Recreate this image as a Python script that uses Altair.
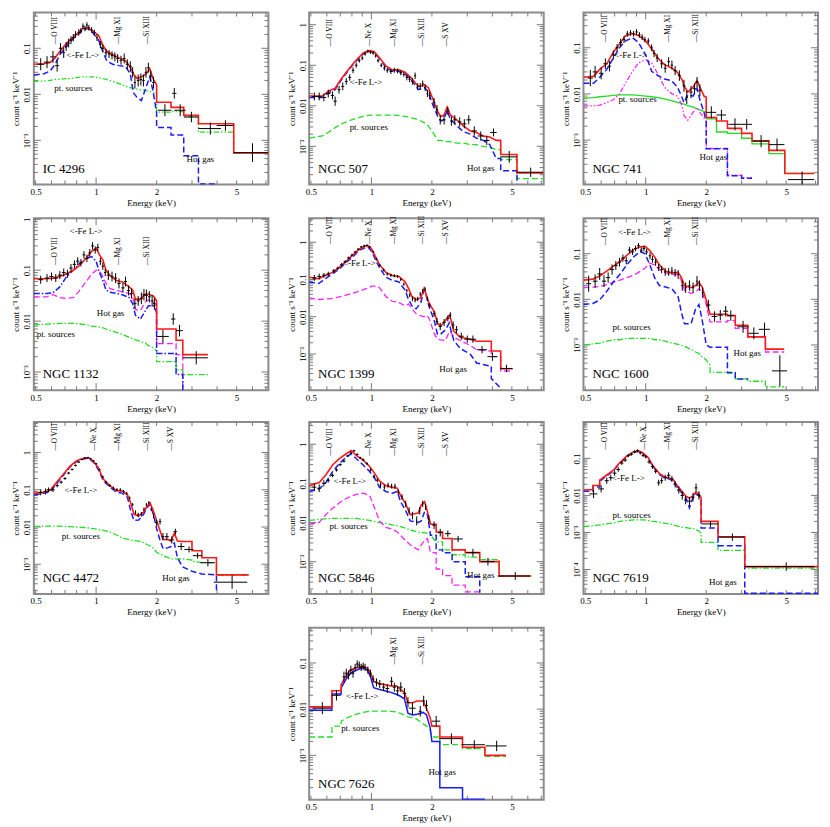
import altair as alt
import pandas as pd

FONT = "Liberation Serif"
W, H = 236, 173
X_DOMAIN = [0.49, 7.2]
X_TICK_VALUES = [0.5, 1, 2, 5]
X_TICK_LABELS = ["0.5", "1", "2", "5"]
X_MAJOR_TICKS = [1]
X_MINOR_TICKS = [0.5, 0.6, 0.7, 0.8, 0.9, 2, 3, 4, 5, 6, 7]
Y_TICK_VALUES = [1, 0.1, 0.01, 0.001, 0.0001]
Y_TICK_LABELS = ["1", "0.1", "0.01", "10⁻³", "10⁻⁴"]
LINE_NAMES = ["O VIII", "Ne X", "Mg XI", "Si XIII", "S XV"]
LINE_ENERGIES = [0.654, 1.022, 1.352, 1.865, 2.46]

# ---------------- IC 4296 ----------------
IC4296_E = [0.49, 0.55, 0.59, 0.625, 0.66, 0.70, 0.74, 0.80, 0.86, 0.91, 0.96, 1.03, 1.08, 1.13, 1.21, 1.30, 1.40, 1.48, 1.53, 1.60, 1.68, 1.78, 1.85, 1.92, 2.0, 2.0, 2.36, 2.36, 2.73, 2.73, 3.23, 3.23, 4.0, 4.84, 4.84, 7.2]
IC4296_TOT = [0.045, 0.046, 0.049, 0.062, 0.085, 0.117, 0.15, 0.2, 0.27, 0.28, 0.24, 0.19, 0.117, 0.085, 0.073, 0.062, 0.053, 0.039, 0.028, 0.022, 0.024, 0.028, 0.036, 0.022, 0.016, 0.0067, 0.0067, 0.0052, 0.0052, 0.0035, 0.0035, 0.0023, 0.0023, 0.0023, 5.3e-4, 5.3e-4]
IC4296_GAS = [0.026, 0.028, 0.032, 0.045, 0.073, 0.1, 0.137, 0.19, 0.25, 0.27, 0.22, 0.15, 0.085, 0.053, 0.045, 0.042, 0.04, 0.028, 0.011, 0.0085, 0.0073, 0.015, 0.024, 0.0117, 0.004, 0.0019, 0.0019, 0.0013, 0.0013, 4.6e-4, 4.6e-4, 1.12e-4, 1.12e-4, None, None, None]
IC4296_PT = [0.019, 0.0195, 0.02, 0.021, 0.021, 0.022, 0.022, 0.023, 0.024, 0.024, 0.024, 0.023, 0.022, 0.021, 0.019, 0.017, 0.015, 0.014, 0.0135, 0.013, 0.0125, 0.012, 0.0115, 0.011, 0.0105, 0.0041, 0.0041, 0.0042, 0.0042, 0.0033, 0.0033, 0.0015, 0.0015, 0.0015, 5.3e-4, 5.3e-4]
IC4296_DX = [0.53, 0.57, 0.61, 0.64, 0.665, 0.69, 0.71, 0.73, 0.75, 0.77, 0.79, 0.82, 0.84, 0.86, 0.88, 0.90, 0.92, 0.95, 0.98, 1.01, 1.05, 1.08, 1.12, 1.16, 1.20, 1.24, 1.28, 1.33, 1.38, 1.43, 1.48, 1.52, 1.56, 1.62, 1.67, 1.72, 1.77, 1.82, 1.87, 1.93, 2.2, 2.45, 2.62, 2.98, 3.7, 4.4, 6.0]
IC4296_DW = [0.02, 0.02, 0.02, 0.015, 0.012, 0.01, 0.01, 0.01, 0.01, 0.01, 0.01, 0.01, 0.01, 0.01, 0.01, 0.01, 0.01, 0.012, 0.012, 0.012, 0.015, 0.015, 0.018, 0.018, 0.018, 0.02, 0.02, 0.022, 0.022, 0.025, 0.025, 0.02, 0.02, 0.025, 0.025, 0.025, 0.025, 0.025, 0.025, 0.03, 0.17, 0.06, 0.17, 0.25, 0.48, 0.42, 1.18]
IC4296_DY = [0.045, 0.05, 0.065, 0.042, 0.1, 0.08, 0.11, 0.13, 0.15, 0.17, 0.2, 0.22, 0.24, 0.3, 0.27, 0.32, 0.28, 0.25, 0.22, 0.17, 0.12, 0.1, 0.08, 0.075, 0.07, 0.065, 0.06, 0.055, 0.06, 0.045, 0.04, 0.03, 0.018, 0.02, 0.021, 0.02, 0.03, 0.038, 0.025, 0.018, 0.0045, 0.0105, 0.0045, 0.0032, 0.0018, 0.0021, 5.4e-4]
IC4296_DF = [1.35, 1.35, 1.35, 1.35, 1.3, 1.3, 1.25, 1.25, 1.22, 1.2, 1.18, 1.18, 1.16, 1.16, 1.15, 1.15, 1.15, 1.15, 1.15, 1.18, 1.2, 1.2, 1.22, 1.22, 1.22, 1.25, 1.25, 1.25, 1.28, 1.28, 1.3, 1.3, 1.35, 1.35, 1.35, 1.35, 1.3, 1.28, 1.3, 1.35, 1.35, 1.3, 1.35, 1.3, 1.35, 1.3, 1.6]

# ---------------- NGC 507 ----------------
N507_E = [0.49, 0.57, 0.61, 0.66, 0.71, 0.77, 0.83, 0.91, 0.97, 1.03, 1.1, 1.18, 1.27, 1.37, 1.47, 1.59, 1.71, 1.84, 1.92, 2.0, 2.14, 2.22, 2.3, 2.38, 2.47, 2.66, 2.87, 3.1, 3.33, 3.6, 3.88, 4.18, 4.4, 4.4, 5.3, 5.3, 7.2]
N507_TOT = [0.0174, 0.0174, 0.023, 0.027, 0.047, 0.08, 0.126, 0.2, 0.23, 0.217, 0.151, 0.096, 0.077, 0.077, 0.067, 0.047, 0.030, 0.033, 0.028, 0.017, 0.007, 0.0054, 0.006, 0.0093, 0.006, 0.0045, 0.0032, 0.0024, 0.0022, 0.0018, 0.0017, 0.0014, 0.0014, 6.3e-4, 6.3e-4, 2.2e-4, 2.2e-4]
N507_GAS = [0.016, 0.016, 0.021, 0.025, 0.044, 0.076, 0.12, 0.19, 0.22, 0.21, 0.145, 0.09, 0.071, 0.071, 0.061, 0.042, 0.025, 0.028, 0.022, 0.012, 0.0054, 0.0042, 0.0046, 0.0078, 0.0047, 0.0032, 0.0023, 0.002, 0.0016, 0.0014, 0.0011, 5e-4, 5e-4, 2.5e-4, 2.5e-4, 1.16e-4, None]
N507_PT = [0.0016, 0.0018, 0.0022, 0.0029, 0.0036, 0.0042, 0.0048, 0.0055, 0.0058, 0.0059, 0.0059, 0.0059, 0.0059, 0.0057, 0.0055, 0.005, 0.0045, 0.0038, 0.0032, 0.0024, 0.0014, 0.0014, 0.0013, 0.0013, 0.0013, 0.0012, 0.0012, 0.0011, 0.0011, 0.001, 9.6e-4, 8.3e-4, 8.3e-4, 4.7e-4, 4.7e-4, 1.6e-4, 1.6e-4]
N507_DX = [0.52, 0.55, 0.58, 0.61, 0.64, 0.66, 0.69, 0.72, 0.75, 0.78, 0.81, 0.84, 0.87, 0.9, 0.93, 0.96, 0.99, 1.02, 1.05, 1.08, 1.12, 1.16, 1.2, 1.25, 1.3, 1.35, 1.4, 1.45, 1.5, 1.55, 1.6, 1.65, 1.7, 1.75, 1.8, 1.85, 1.9, 1.95, 2.05, 2.12, 2.2, 2.3, 2.4, 2.5, 2.6, 2.75, 2.9, 3.05, 3.25, 3.5, 3.75, 4.05, 4.85, 6.2]
N507_DW = [0.015, 0.015, 0.015, 0.015, 0.012, 0.012, 0.012, 0.012, 0.012, 0.012, 0.012, 0.012, 0.012, 0.012, 0.012, 0.012, 0.012, 0.012, 0.012, 0.015, 0.015, 0.015, 0.018, 0.018, 0.02, 0.02, 0.02, 0.02, 0.02, 0.02, 0.02, 0.02, 0.02, 0.02, 0.02, 0.02, 0.02, 0.02, 0.03, 0.03, 0.03, 0.04, 0.04, 0.04, 0.05, 0.06, 0.07, 0.08, 0.1, 0.12, 0.12, 0.15, 0.45, 0.95]
N507_DY = [0.017, 0.017, 0.016, 0.02, 0.018, 0.013, 0.025, 0.03, 0.04, 0.05, 0.075, 0.1, 0.13, 0.15, 0.19, 0.22, 0.21, 0.2, 0.17, 0.13, 0.1, 0.085, 0.075, 0.07, 0.075, 0.072, 0.065, 0.06, 0.05, 0.045, 0.04, 0.055, 0.03, 0.03, 0.035, 0.028, 0.02, 0.018, 0.012, 0.008, 0.0045, 0.0045, 0.0075, 0.0042, 0.0045, 0.004, 0.0036, 0.0045, 0.0024, 0.0018, 0.0014, 0.0022, 5.5e-4, 2.3e-4]
N507_DF = [1.25, 1.25, 1.25, 1.25, 1.25, 1.3, 1.25, 1.25, 1.2, 1.2, 1.18, 1.15, 1.12, 1.12, 1.1, 1.1, 1.1, 1.1, 1.1, 1.12, 1.12, 1.15, 1.15, 1.15, 1.15, 1.15, 1.15, 1.15, 1.18, 1.18, 1.2, 1.2, 1.2, 1.2, 1.2, 1.2, 1.22, 1.25, 1.3, 1.3, 1.3, 1.3, 1.25, 1.3, 1.3, 1.3, 1.3, 1.3, 1.3, 1.3, 1.3, 1.25, 1.4, 1.3]

# ---------------- NGC 741 ----------------
N741_E = [0.49, 0.55, 0.59, 0.64, 0.69, 0.74, 0.79, 0.86, 0.92, 1.0, 1.07, 1.15, 1.24, 1.34, 1.44, 1.52, 1.55, 1.62, 1.72, 1.8, 1.86, 1.95, 2.0, 2.0, 2.25, 2.25, 2.55, 2.55, 3.0, 3.0, 3.38, 3.38, 4.1, 4.1, 4.92, 4.92, 6.9]
N741_TOT = [0.023, 0.024, 0.034, 0.045, 0.08, 0.12, 0.18, 0.2, 0.185, 0.14, 0.095, 0.059, 0.043, 0.037, 0.029, 0.02, 0.015, 0.011, 0.014, 0.0196, 0.014, 0.009, 0.0085, 0.0031, 0.0031, 0.0026, 0.0026, 0.0018, 0.0018, 0.0014, 0.0014, 9.7e-4, 9.7e-4, 6.0e-4, 6.0e-4, 1.9e-4, 1.9e-4]
N741_GAS = [0.017, 0.017, 0.023, 0.034, 0.06, 0.1, 0.14, 0.165, 0.13, 0.07, 0.031, 0.025, 0.021, 0.0196, 0.014, 0.0081, 0.0065, 0.0095, 0.009, 0.0132, 0.0075, 0.004, 0.0025, 6.5e-4, 6.5e-4, 6.5e-4, 6.5e-4, 1.7e-4, 1.7e-4, 1.5e-4, 1.5e-4, None, None, None, None, None, None]
N741_MAG = [0.0055, 0.0055, 0.0057, 0.0065, 0.0075, 0.01, 0.0167, 0.031, 0.047, 0.055, 0.047, 0.027, 0.014, 0.0103, 0.0089, 0.0055, 0.0034, 0.0027, 0.004, 0.005, 0.004, 0.003, 0.0025, 6.6e-4, 6.6e-4, 6.6e-4, 6.6e-4, 1.75e-4, 1.75e-4, 1.55e-4, 1.55e-4, None, None, None, None, None, None]
N741_PT = [0.0081, 0.0083, 0.0087, 0.009, 0.0093, 0.0095, 0.0095, 0.0095, 0.0093, 0.009, 0.0087, 0.0083, 0.0078, 0.0072, 0.0066, 0.0062, 0.006, 0.0056, 0.0052, 0.0048, 0.0045, 0.0042, 0.004, 0.0029, 0.0029, 0.0015, 0.0015, 0.0014, 0.0014, 0.0011, 0.0011, 8.3e-4, 8.3e-4, 5.1e-4, 5.1e-4, 1.9e-4, 1.9e-4]
N741_DX = [0.53, 0.56, 0.6, 0.63, 0.66, 0.69, 0.72, 0.75, 0.78, 0.81, 0.84, 0.87, 0.9, 0.93, 0.96, 0.99, 1.03, 1.07, 1.1, 1.14, 1.2, 1.25, 1.3, 1.35, 1.4, 1.47, 1.55, 1.6, 1.68, 1.75, 1.8, 1.86, 2.12, 2.38, 2.78, 3.18, 3.75, 4.5, 6.0]
N741_DW = [0.015, 0.015, 0.015, 0.015, 0.012, 0.012, 0.012, 0.012, 0.012, 0.012, 0.012, 0.012, 0.012, 0.012, 0.012, 0.012, 0.015, 0.015, 0.015, 0.018, 0.02, 0.02, 0.02, 0.02, 0.025, 0.025, 0.025, 0.025, 0.03, 0.03, 0.03, 0.03, 0.12, 0.13, 0.2, 0.2, 0.35, 0.4, 0.9]
N741_DY = [0.022, 0.03, 0.028, 0.045, 0.04, 0.07, 0.1, 0.13, 0.15, 0.2, 0.21, 0.2, 0.22, 0.19, 0.17, 0.15, 0.14, 0.1, 0.075, 0.06, 0.045, 0.036, 0.05, 0.042, 0.032, 0.025, 0.015, 0.0085, 0.011, 0.013, 0.018, 0.012, 0.004, 0.0035, 0.0022, 0.0022, 9.5e-4, 8e-4, 1.4e-4]
N741_DF = [1.5, 1.35, 1.35, 1.3, 1.3, 1.25, 1.2, 1.2, 1.18, 1.15, 1.15, 1.15, 1.15, 1.15, 1.15, 1.15, 1.15, 1.18, 1.2, 1.22, 1.25, 1.25, 1.25, 1.25, 1.25, 1.3, 1.35, 1.4, 1.35, 1.3, 1.3, 1.35, 1.35, 1.3, 1.35, 1.3, 1.35, 1.35, 1.5]

# ---------------- NGC 1132 ----------------
N1132_E = [0.49, 0.565, 0.61, 0.66, 0.71, 0.77, 0.82, 0.89, 0.95, 1.0, 1.04, 1.08, 1.12, 1.17, 1.26, 1.35, 1.46, 1.52, 1.57, 1.66, 1.76, 1.82, 1.93, 2.0, 2.0, 2.5, 2.5, 2.7, 2.7, 3.6]
N1132_TOT = [0.068, 0.068, 0.07, 0.075, 0.084, 0.1, 0.12, 0.17, 0.235, 0.27, 0.2, 0.16, 0.1, 0.08, 0.063, 0.059, 0.047, 0.041, 0.027, 0.027, 0.034, 0.034, 0.031, 0.025, 0.007, 0.007, 0.0042, 0.0042, 0.0022, 0.0022]
N1132_GAS = [0.035, 0.035, 0.036, 0.047, 0.073, 0.1, 0.13, 0.17, 0.185, 0.15, 0.09, 0.063, 0.041, 0.037, 0.035, 0.033, 0.029, 0.022, 0.013, 0.011, 0.016, 0.02, 0.02, 0.015, 0.0023, 0.0023, 8.9e-4, 8.9e-4, 4e-4, None]
N1132_MAG = [0.03, 0.03, 0.033, 0.029, 0.028, 0.029, 0.038, 0.059, 0.084, 0.1, 0.095, 0.075, 0.055, 0.044, 0.04, 0.038, 0.035, 0.03, 0.017, 0.016, 0.024, 0.026, 0.023, 0.02, 0.0036, 0.0036, 0.0022, 0.0022, 4e-4, None]
N1132_PT = [0.0084, 0.0087, 0.0089, 0.009, 0.009, 0.009, 0.0088, 0.0085, 0.008, 0.0078, 0.0076, 0.0074, 0.007, 0.0066, 0.006, 0.0055, 0.0048, 0.0045, 0.0043, 0.004, 0.0037, 0.0033, 0.003, 0.0026, 0.0016, 0.0016, 0.0011, 0.0011, 8.9e-4, 8.9e-4]
N1132_DX = [0.53, 0.57, 0.6, 0.63, 0.66, 0.69, 0.72, 0.75, 0.78, 0.81, 0.84, 0.87, 0.9, 0.93, 0.96, 0.99, 1.02, 1.05, 1.08, 1.11, 1.15, 1.2, 1.25, 1.3, 1.36, 1.4, 1.45, 1.5, 1.56, 1.62, 1.68, 1.73, 1.78, 1.84, 1.9, 1.95, 2.15, 2.42, 2.6, 3.15]
N1132_DW = [0.015, 0.015, 0.015, 0.015, 0.015, 0.015, 0.015, 0.015, 0.015, 0.015, 0.015, 0.015, 0.015, 0.015, 0.015, 0.015, 0.015, 0.015, 0.015, 0.015, 0.02, 0.02, 0.02, 0.025, 0.025, 0.025, 0.025, 0.025, 0.03, 0.03, 0.03, 0.03, 0.03, 0.03, 0.03, 0.03, 0.15, 0.06, 0.1, 0.45]
N1132_DY = [0.065, 0.07, 0.075, 0.07, 0.08, 0.09, 0.085, 0.11, 0.13, 0.15, 0.14, 0.2, 0.17, 0.22, 0.3, 0.25, 0.28, 0.15, 0.12, 0.09, 0.08, 0.075, 0.07, 0.055, 0.045, 0.06, 0.04, 0.035, 0.022, 0.025, 0.028, 0.033, 0.032, 0.03, 0.025, 0.022, 0.005, 0.011, 0.0065, 0.0019]
N1132_DF = [1.2, 1.2, 1.2, 1.2, 1.2, 1.2, 1.2, 1.2, 1.2, 1.2, 1.18, 1.18, 1.18, 1.18, 1.18, 1.18, 1.18, 1.18, 1.18, 1.18, 1.25, 1.25, 1.25, 1.25, 1.25, 1.25, 1.25, 1.25, 1.25, 1.25, 1.3, 1.3, 1.3, 1.3, 1.3, 1.3, 1.35, 1.3, 1.3, 1.35]

# ---------------- NGC 1399 ----------------
N1399_E = [0.49, 0.547, 0.59, 0.639, 0.69, 0.747, 0.81, 0.87, 0.925, 0.96, 1.0, 1.057, 1.097, 1.18, 1.27, 1.37, 1.47, 1.53, 1.59, 1.67, 1.76, 1.83, 1.86, 1.93, 2.06, 2.13, 2.21, 2.34, 2.44, 2.47, 2.57, 2.77, 3.1, 3.34, 3.95, 3.95, 4.4, 4.4, 5.05]
N1399_TOT = [0.115, 0.105, 0.128, 0.155, 0.208, 0.308, 0.456, 0.65, 0.77, 0.82, 0.675, 0.375, 0.25, 0.155, 0.128, 0.12, 0.087, 0.058, 0.035, 0.029, 0.032, 0.058, 0.045, 0.024, 0.0133, 0.0068, 0.0055, 0.008, 0.0109, 0.0095, 0.0041, 0.0028, 0.0025, 0.0022, 0.0022, 0.0012, 0.0012, 4.0e-4, 4.0e-4]
N1399_GAS = [0.086, 0.078, 0.105, 0.14, 0.188, 0.28, 0.41, 0.61, 0.7, 0.745, 0.58, 0.308, 0.208, 0.115, 0.095, 0.086, 0.052, 0.029, 0.0197, 0.0163, 0.024, 0.052, 0.043, 0.0197, 0.0075, 0.0034, 0.0034, 0.0045, 0.0068, 0.005, 0.0023, 0.0014, 0.001, 5.7e-4, 4.7e-4, 2.2e-4, 1.2e-4, None, None]
N1399_MAG = [0.032, 0.029, 0.03, 0.031, 0.034, 0.038, 0.043, 0.048, 0.055, 0.058, 0.066, 0.066, 0.06, 0.035, 0.026, 0.024, 0.0197, 0.022, 0.0163, 0.012, 0.0105, 0.01, 0.011, 0.0095, 0.0034, 0.0025, 0.0024, 0.0023, 0.004, 0.0041, 0.0028, 0.0023, 0.0017, 0.0013, 0.0012, 8.5e-4, 8.5e-4, 3.5e-4, 3.5e-4]
N1399_DX = [0.52, 0.55, 0.58, 0.61, 0.65, 0.68, 0.71, 0.74, 0.77, 0.8, 0.83, 0.86, 0.89, 0.92, 0.95, 0.98, 1.02, 1.06, 1.1, 1.15, 1.2, 1.25, 1.3, 1.35, 1.4, 1.45, 1.5, 1.55, 1.6, 1.65, 1.7, 1.75, 1.8, 1.85, 1.9, 1.95, 2.05, 2.12, 2.2, 2.3, 2.4, 2.47, 2.55, 2.65, 2.8, 3.0, 3.2, 3.55, 4.0, 4.7]
N1399_DW = [0.012, 0.012, 0.012, 0.012, 0.012, 0.012, 0.012, 0.012, 0.012, 0.012, 0.012, 0.012, 0.012, 0.012, 0.012, 0.012, 0.012, 0.012, 0.012, 0.012, 0.012, 0.012, 0.012, 0.012, 0.012, 0.012, 0.012, 0.012, 0.012, 0.012, 0.012, 0.012, 0.012, 0.012, 0.012, 0.012, 0.03, 0.03, 0.04, 0.04, 0.04, 0.03, 0.04, 0.05, 0.08, 0.1, 0.12, 0.2, 0.22, 0.33]
N1399_DY = [0.11, 0.12, 0.13, 0.14, 0.17, 0.2, 0.25, 0.3, 0.38, 0.45, 0.55, 0.65, 0.75, 0.8, 0.82, 0.75, 0.55, 0.35, 0.24, 0.18, 0.14, 0.13, 0.125, 0.12, 0.1, 0.075, 0.05, 0.038, 0.03, 0.028, 0.03, 0.04, 0.05, 0.055, 0.03, 0.02, 0.012, 0.0075, 0.0055, 0.007, 0.009, 0.011, 0.006, 0.0045, 0.003, 0.0025, 0.0025, 0.0013, 8.5e-4, 4.1e-4]
N1399_DF = [1.2, 1.2, 1.15, 1.15, 1.12, 1.1, 1.1, 1.08, 1.08, 1.08, 1.06, 1.06, 1.06, 1.06, 1.06, 1.06, 1.06, 1.08, 1.08, 1.1, 1.1, 1.1, 1.1, 1.1, 1.1, 1.1, 1.12, 1.12, 1.15, 1.15, 1.15, 1.15, 1.12, 1.12, 1.15, 1.15, 1.2, 1.25, 1.25, 1.25, 1.2, 1.2, 1.25, 1.25, 1.25, 1.25, 1.25, 1.25, 1.3, 1.25]

# ---------------- NGC 1600 ----------------
N1600_E = [0.49, 0.546, 0.59, 0.637, 0.688, 0.744, 0.804, 0.87, 0.94, 0.993, 1.048, 1.107, 1.169, 1.256, 1.35, 1.45, 1.506, 1.56, 1.68, 1.77, 1.84, 1.91, 2.0, 2.09, 2.09, 2.55, 2.55, 2.79, 2.79, 3.22, 3.22, 3.94, 3.94, 4.89]
N1600_TOT = [0.0264, 0.0277, 0.0325, 0.041, 0.0527, 0.067, 0.092, 0.123, 0.142, 0.145, 0.117, 0.085, 0.057, 0.041, 0.038, 0.039, 0.03, 0.0201, 0.018, 0.0201, 0.0236, 0.0186, 0.0097, 0.0047, 0.0047, 0.0047, 0.0044, 0.0044, 0.0027, 0.0027, 0.0015, 0.0015, 8.1e-4, 8.1e-4]
N1600_GAS = [0.0077, 0.0081, 0.0097, 0.0146, 0.0236, 0.0353, 0.057, 0.085, 0.112, 0.1, 0.057, 0.03, 0.0201, 0.0186, 0.017, 0.0114, 0.0051, 0.0029, 0.0029, 0.0061, 0.0077, 0.0035, 0.001, 8.9e-4, 8.9e-4, 8.9e-4, 2.5e-4, 2.5e-4, 1.8e-4, 1.8e-4, None, None, None, None]
N1600_MAG = [0.018, 0.0186, 0.019, 0.021, 0.0236, 0.0264, 0.03, 0.034, 0.041, 0.0486, 0.062, 0.057, 0.045, 0.038, 0.035, 0.035, 0.0255, 0.0158, 0.0134, 0.0146, 0.017, 0.0146, 0.0077, 0.0032, 0.0032, 0.0032, 0.0034, 0.0034, 0.0023, 0.0023, 0.0015, 0.0015, 7e-4, 7e-4]
N1600_PT = [0.001, 0.00105, 0.0011, 0.0012, 0.0013, 0.0013, 0.0014, 0.0014, 0.0014, 0.0014, 0.0014, 0.0013, 0.0013, 0.0012, 0.0011, 0.00103, 9.8e-4, 9.3e-4, 8e-4, 7e-4, 6.5e-4, 5.5e-4, 4.7e-4, 3.6e-4, 2.5e-4, 2.5e-4, 2.4e-4, 2.4e-4, 1.8e-4, 1.8e-4, 1.6e-4, 1.6e-4, 1.2e-4, 1.2e-4]
N1600_DX = [0.52, 0.56, 0.59, 0.62, 0.65, 0.68, 0.71, 0.74, 0.77, 0.8, 0.83, 0.86, 0.89, 0.92, 0.95, 0.98, 1.01, 1.05, 1.08, 1.12, 1.16, 1.2, 1.25, 1.3, 1.35, 1.4, 1.45, 1.52, 1.58, 1.65, 1.72, 1.8, 1.85, 1.92, 2.05, 2.2, 2.35, 2.5, 2.65, 3.05, 3.45, 3.9, 4.65]
N1600_DW = [0.015, 0.015, 0.015, 0.015, 0.015, 0.015, 0.015, 0.015, 0.015, 0.015, 0.015, 0.015, 0.015, 0.015, 0.015, 0.015, 0.015, 0.015, 0.015, 0.015, 0.015, 0.015, 0.015, 0.015, 0.015, 0.015, 0.015, 0.02, 0.02, 0.02, 0.02, 0.02, 0.02, 0.02, 0.05, 0.07, 0.07, 0.07, 0.1, 0.2, 0.2, 0.25, 0.4]
N1600_DY = [0.022, 0.025, 0.036, 0.025, 0.03, 0.045, 0.055, 0.065, 0.08, 0.07, 0.12, 0.11, 0.13, 0.15, 0.12, 0.13, 0.11, 0.09, 0.075, 0.065, 0.05, 0.045, 0.04, 0.04, 0.042, 0.038, 0.035, 0.02, 0.018, 0.02, 0.018, 0.025, 0.02, 0.014, 0.0075, 0.0042, 0.0045, 0.0055, 0.0044, 0.0025, 0.0018, 0.0022, 2.7e-4]
N1600_DF = [1.5, 1.4, 1.35, 1.35, 1.3, 1.3, 1.25, 1.25, 1.2, 1.2, 1.18, 1.18, 1.15, 1.15, 1.15, 1.15, 1.15, 1.18, 1.18, 1.2, 1.2, 1.2, 1.22, 1.22, 1.22, 1.22, 1.25, 1.3, 1.3, 1.3, 1.3, 1.3, 1.3, 1.3, 1.3, 1.3, 1.3, 1.3, 1.3, 1.35, 1.35, 1.4, 2.2]

# ---------------- NGC 4472 ----------------
N4472_E = [0.49, 0.546, 0.589, 0.636, 0.687, 0.742, 0.801, 0.865, 0.917, 0.97, 1.026, 1.085, 1.169, 1.258, 1.355, 1.433, 1.487, 1.543, 1.63, 1.724, 1.79, 1.857, 1.927, 2.0, 2.075, 2.154, 2.28, 2.36, 2.45, 2.54, 2.54, 2.69, 2.69, 3.0, 3.0, 3.36, 3.36, 3.97, 3.97, 5.75]
N4472_TOT = [0.08, 0.085, 0.096, 0.16, 0.26, 0.43, 0.6, 0.7, 0.73, 0.58, 0.39, 0.194, 0.131, 0.096, 0.092, 0.072, 0.044, 0.022, 0.02, 0.025, 0.036, 0.044, 0.027, 0.015, 0.0083, 0.0046, 0.0046, 0.0042, 0.0068, 0.0042, 0.0042, 0.0041, 0.0041, 0.0041, 0.0023, 0.0023, 0.0015, 0.0015, 5.2e-4, 5.2e-4]
N4472_GAS = [0.072, 0.08, 0.088, 0.145, 0.246, 0.41, 0.575, 0.67, 0.7, 0.55, 0.35, 0.176, 0.119, 0.088, 0.08, 0.062, 0.027, 0.015, 0.0155, 0.022, 0.033, 0.04, 0.022, 0.0091, 0.0046, 0.0026, 0.0028, 0.003, 0.0037, 0.0015, 0.0015, 8.5e-4, 8.5e-4, 6.5e-4, 6.5e-4, 5.5e-4, 5.5e-4, 5.2e-4, 1.7e-4, None]
N4472_PT = [0.0104, 0.0105, 0.0105, 0.0105, 0.0104, 0.0102, 0.01, 0.0097, 0.0094, 0.009, 0.0086, 0.0081, 0.0075, 0.0062, 0.005, 0.0047, 0.0045, 0.0043, 0.0042, 0.0038, 0.0034, 0.0031, 0.0027, 0.0021, 0.0019, 0.0017, 0.0015, 0.0014, 0.0014, 0.0014, 0.0014, 0.0014, 0.0014, 0.0013, 0.0012, 0.0011, 0.0011, 0.0011, 5.0e-4, 5.0e-4]
N4472_DX = [0.53, 0.56, 0.58, 0.61, 0.64, 0.67, 0.7, 0.73, 0.76, 0.79, 0.82, 0.85, 0.88, 0.91, 0.94, 0.97, 1.0, 1.04, 1.08, 1.12, 1.17, 1.22, 1.27, 1.32, 1.37, 1.42, 1.47, 1.52, 1.57, 1.62, 1.68, 1.73, 1.78, 1.83, 1.88, 1.93, 2.0, 2.08, 2.15, 2.25, 2.38, 2.48, 2.65, 2.9, 3.2, 3.6, 4.75]
N4472_DW = [0.012, 0.012, 0.012, 0.012, 0.012, 0.012, 0.012, 0.012, 0.012, 0.012, 0.012, 0.012, 0.012, 0.012, 0.012, 0.012, 0.012, 0.012, 0.012, 0.012, 0.012, 0.012, 0.012, 0.012, 0.012, 0.012, 0.012, 0.012, 0.012, 0.012, 0.012, 0.012, 0.012, 0.012, 0.012, 0.012, 0.03, 0.03, 0.04, 0.05, 0.06, 0.05, 0.1, 0.15, 0.17, 0.3, 0.9]
N4472_DY = [0.085, 0.09, 0.1, 0.1, 0.13, 0.16, 0.2, 0.28, 0.35, 0.45, 0.55, 0.65, 0.72, 0.72, 0.68, 0.6, 0.5, 0.35, 0.22, 0.16, 0.13, 0.11, 0.1, 0.1, 0.09, 0.08, 0.06, 0.04, 0.025, 0.021, 0.022, 0.03, 0.04, 0.045, 0.03, 0.02, 0.013, 0.014, 0.0055, 0.0055, 0.0045, 0.0075, 0.003, 0.0025, 0.0017, 0.0011, 3.3e-4]
N4472_DF = [1.2, 1.2, 1.15, 1.15, 1.12, 1.1, 1.08, 1.08, 1.06, 1.06, 1.05, 1.05, 1.05, 1.05, 1.05, 1.05, 1.05, 1.06, 1.08, 1.08, 1.1, 1.1, 1.1, 1.1, 1.1, 1.1, 1.1, 1.1, 1.12, 1.15, 1.15, 1.12, 1.1, 1.1, 1.12, 1.15, 1.2, 1.2, 1.25, 1.25, 1.25, 1.2, 1.25, 1.2, 1.2, 1.25, 1.5]

# ---------------- NGC 5846 ----------------
N5846_E = [0.49, 0.55, 0.594, 0.641, 0.693, 0.749, 0.794, 0.84, 0.91, 0.98, 1.038, 1.097, 1.18, 1.27, 1.345, 1.396, 1.476, 1.56, 1.71, 1.77, 1.84, 1.9, 1.97, 2.1, 2.1, 2.26, 2.26, 2.52, 2.52, 2.93, 2.93, 3.46, 3.46, 4.32, 4.32, 6.26]
N5846_TOT = [0.087, 0.105, 0.167, 0.294, 0.43, 0.57, 0.69, 0.52, 0.39, 0.27, 0.18, 0.115, 0.087, 0.079, 0.075, 0.049, 0.031, 0.016, 0.0175, 0.028, 0.034, 0.019, 0.009, 0.009, 0.0057, 0.0057, 0.0039, 0.0039, 0.002, 0.002, 0.0017, 0.0017, 0.001, 0.001, 4.3e-4, 4.3e-4]
N5846_GAS = [0.062, 0.072, 0.105, 0.2, 0.32, 0.47, 0.57, 0.43, 0.294, 0.2, 0.138, 0.079, 0.062, 0.056, 0.062, 0.034, 0.021, 0.011, 0.01, 0.011, 0.019, 0.016, 0.0047, 0.0047, 0.002, 0.002, 0.0017, 0.0017, 0.001, 0.001, 4.1e-4, 4.1e-4, 1.6e-4, None, None, None]
N5846_MAG = [0.009, 0.01, 0.016, 0.023, 0.032, 0.041, 0.047, 0.052, 0.056, 0.049, 0.023, 0.011, 0.0075, 0.0068, 0.0057, 0.0047, 0.0035, 0.0027, 0.002, 0.0027, 0.0035, 0.0039, 0.0017, 0.0017, 6.5e-4, 6.5e-4, 4.4e-4, 4.4e-4, 2.5e-4, 2.5e-4, 1.7e-4, 1.7e-4, None, None, None, None]
N5846_PT = [0.0113, 0.012, 0.0125, 0.0127, 0.0128, 0.0128, 0.0128, 0.0127, 0.012, 0.0113, 0.0105, 0.01, 0.0095, 0.0087, 0.0082, 0.0078, 0.0072, 0.0065, 0.0057, 0.0055, 0.0055, 0.0053, 0.0047, 0.0032, 0.0032, 0.0032, 0.002, 0.002, 0.0015, 0.0015, 0.0013, 0.0013, 0.00113, 0.00113, 4.3e-4, 4.3e-4]
N5846_DX = [0.52, 0.55, 0.58, 0.61, 0.64, 0.67, 0.7, 0.73, 0.76, 0.79, 0.82, 0.85, 0.88, 0.91, 0.95, 0.99, 1.03, 1.07, 1.11, 1.16, 1.21, 1.26, 1.31, 1.36, 1.42, 1.48, 1.54, 1.6, 1.68, 1.74, 1.8, 1.86, 1.93, 2.05, 2.2, 2.4, 2.7, 3.2, 3.8, 5.2]
N5846_DW = [0.012, 0.012, 0.012, 0.012, 0.012, 0.012, 0.012, 0.012, 0.012, 0.012, 0.012, 0.012, 0.012, 0.012, 0.012, 0.012, 0.012, 0.012, 0.012, 0.012, 0.012, 0.012, 0.012, 0.012, 0.012, 0.012, 0.012, 0.012, 0.012, 0.012, 0.012, 0.012, 0.012, 0.04, 0.06, 0.08, 0.15, 0.25, 0.3, 0.95]
N5846_DY = [0.08, 0.075, 0.1, 0.12, 0.16, 0.22, 0.3, 0.37, 0.5, 0.6, 0.68, 0.55, 0.45, 0.4, 0.32, 0.22, 0.15, 0.12, 0.09, 0.08, 0.09, 0.085, 0.085, 0.06, 0.045, 0.03, 0.02, 0.015, 0.011, 0.02, 0.03, 0.025, 0.012, 0.0085, 0.0055, 0.0052, 0.0038, 0.0017, 0.001, 4.3e-4]
N5846_DF = [1.25, 1.25, 1.2, 1.15, 1.12, 1.1, 1.08, 1.08, 1.06, 1.06, 1.06, 1.06, 1.06, 1.08, 1.08, 1.1, 1.12, 1.12, 1.15, 1.15, 1.15, 1.15, 1.15, 1.15, 1.18, 1.2, 1.22, 1.25, 1.3, 1.25, 1.2, 1.2, 1.25, 1.25, 1.25, 1.2, 1.2, 1.25, 1.25, 1.25]

# ---------------- NGC 7619 ----------------
N7619_E = [0.49, 0.546, 0.546, 0.59, 0.59, 0.637, 0.688, 0.744, 0.804, 0.87, 0.92, 0.97, 1.03, 1.087, 1.169, 1.234, 1.303, 1.376, 1.427, 1.507, 1.59, 1.65, 1.71, 1.77, 1.84, 1.886, 1.886, 2.29, 2.29, 3.11, 3.11, 7.2]
N7619_TOT = [0.0143, 0.0143, 0.0185, 0.0185, 0.026, 0.035, 0.047, 0.077, 0.115, 0.15, 0.16, 0.14, 0.104, 0.063, 0.039, 0.032, 0.03, 0.026, 0.019, 0.0134, 0.0094, 0.0085, 0.0094, 0.0122, 0.011, 0.0085, 0.002, 0.002, 7.7e-4, 7.7e-4, 1.2e-4, 1.2e-4]
N7619_GAS = [0.013, 0.013, 0.017, 0.017, 0.024, 0.033, 0.045, 0.074, 0.11, 0.145, 0.155, 0.135, 0.1, 0.06, 0.037, 0.03, 0.028, 0.024, 0.017, 0.012, 0.0082, 0.0046, 0.0082, 0.011, 0.0098, 0.0075, 0.00133, 0.00133, 4.4e-4, 4.4e-4, 2.3e-5, 2.3e-5]
N7619_PT = [0.00145, 0.0015, 0.0015, 0.0016, 0.0016, 0.0017, 0.0018, 0.002, 0.0021, 0.0022, 0.0022, 0.0022, 0.0021, 0.002, 0.0019, 0.0018, 0.0017, 0.0016, 0.0015, 0.0014, 0.00135, 0.0013, 0.0013, 0.0012, 0.0011, 9.7e-4, 5.4e-4, 5.4e-4, 3.3e-4, 3.3e-4, 1.1e-4, 1.1e-4]
N7619_DX = [0.55, 0.6, 0.64, 0.67, 0.7, 0.73, 0.76, 0.79, 0.82, 0.85, 0.88, 0.91, 0.94, 0.97, 1.0, 1.04, 1.08, 1.12, 1.16, 1.2, 1.25, 1.3, 1.35, 1.4, 1.46, 1.52, 1.58, 1.65, 1.72, 1.78, 1.84, 2.1, 2.7, 5.0]
N7619_DW = [0.025, 0.02, 0.015, 0.015, 0.015, 0.015, 0.015, 0.015, 0.015, 0.015, 0.015, 0.015, 0.015, 0.015, 0.015, 0.02, 0.02, 0.02, 0.02, 0.02, 0.025, 0.025, 0.025, 0.025, 0.03, 0.03, 0.03, 0.03, 0.03, 0.03, 0.03, 0.2, 0.4, 1.9]
N7619_DY = [0.011, 0.015, 0.025, 0.03, 0.04, 0.05, 0.075, 0.09, 0.12, 0.13, 0.15, 0.16, 0.14, 0.12, 0.11, 0.08, 0.06, 0.045, 0.022, 0.025, 0.03, 0.035, 0.028, 0.02, 0.014, 0.01, 0.0075, 0.007, 0.009, 0.016, 0.01, 0.0017, 7.5e-4, 1.2e-4]
N7619_DF = [1.3, 1.25, 1.22, 1.2, 1.18, 1.15, 1.12, 1.12, 1.1, 1.1, 1.1, 1.1, 1.1, 1.1, 1.1, 1.12, 1.15, 1.15, 1.2, 1.2, 1.2, 1.2, 1.2, 1.22, 1.25, 1.3, 1.3, 1.3, 1.3, 1.3, 1.3, 1.2, 1.25, 1.3]

# ---------------- NGC 7626 ----------------
N7626_E = [0.49, 0.636, 0.636, 0.707, 0.707, 0.746, 0.786, 0.845, 0.906, 0.955, 0.99, 1.026, 1.085, 1.165, 1.25, 1.33, 1.38, 1.46, 1.52, 1.6, 1.69, 1.81, 1.88, 1.96, 2.0, 2.0, 2.19, 2.19, 2.84, 2.84, 3.67, 3.67, 4.67]
N7626_TOT = [0.0112, 0.0112, 0.025, 0.025, 0.0344, 0.0511, 0.0705, 0.079, 0.085, 0.0763, 0.06, 0.0403, 0.036, 0.034, 0.0318, 0.032, 0.028, 0.0231, 0.0138, 0.0138, 0.015, 0.015, 0.0103, 0.0065, 0.0043, 0.0043, 0.0043, 0.0025, 0.0025, 0.0015, 0.0015, 0.001, 0.001]
N7626_GAS = [0.0095, 0.0095, 0.0213, 0.0213, 0.029, 0.0437, 0.06, 0.0705, 0.079, 0.0705, 0.05, 0.0292, 0.0271, 0.025, 0.0231, 0.021, 0.0195, 0.0168, 0.0082, 0.0075, 0.0078, 0.0085, 0.0075, 0.004, 0.002, 0.002, 0.002, 2e-4, 2e-4, 1.12e-4, 1.12e-4, None, None]
N7626_PT = [0.0025, 0.0025, 0.0043, 0.0043, 0.0055, 0.0063, 0.007, 0.0078, 0.0085, 0.0088, 0.009, 0.0091, 0.0091, 0.0091, 0.009, 0.0087, 0.0082, 0.0075, 0.0068, 0.0066, 0.006, 0.0048, 0.0043, 0.0035, 0.0025, 0.0025, 0.0025, 0.0017, 0.0017, 0.0014, 0.0014, 9.5e-4, 9.5e-4]
N7626_DX = [0.57, 0.67, 0.73, 0.75, 0.77, 0.79, 0.81, 0.83, 0.85, 0.87, 0.89, 0.91, 0.93, 0.96, 0.99, 1.02, 1.06, 1.1, 1.15, 1.2, 1.26, 1.3, 1.35, 1.4, 1.46, 1.52, 1.6, 1.75, 1.82, 1.88, 2.1, 2.5, 3.25, 4.2]
N7626_DW = [0.06, 0.035, 0.012, 0.012, 0.012, 0.012, 0.012, 0.012, 0.012, 0.012, 0.012, 0.012, 0.012, 0.015, 0.015, 0.015, 0.02, 0.02, 0.02, 0.025, 0.025, 0.025, 0.03, 0.03, 0.03, 0.03, 0.06, 0.03, 0.03, 0.03, 0.1, 0.33, 0.42, 0.5]
N7626_DY = [0.0105, 0.02, 0.05, 0.06, 0.055, 0.07, 0.06, 0.08, 0.095, 0.09, 0.08, 0.085, 0.08, 0.07, 0.06, 0.045, 0.038, 0.035, 0.03, 0.028, 0.04, 0.03, 0.025, 0.03, 0.022, 0.014, 0.0105, 0.009, 0.015, 0.012, 0.0055, 0.0023, 0.0017, 0.0016]
N7626_DF = [1.35, 1.3, 1.3, 1.25, 1.25, 1.25, 1.25, 1.2, 1.2, 1.2, 1.2, 1.2, 1.2, 1.2, 1.2, 1.2, 1.22, 1.22, 1.22, 1.25, 1.25, 1.25, 1.28, 1.28, 1.3, 1.3, 1.35, 1.3, 1.3, 1.3, 1.3, 1.3, 1.25, 1.3]

# annotation positions (energy, count rate) per panel
FE_POS = [(0.86, 0.073), (0.94, 0.039), (0.84, 0.07), (0.89, 0.58), (0.87, 0.28), (0.88, 0.3), (0.84, 0.096), (0.78, 0.115), (0.82, 0.0287), (0.9, 0.0197)]
PT_POS = [(0.77, 0.014), (0.97, 0.003), (0.91, 0.0076), (0.63, 0.0055), None, (0.85, 0.0025), (0.84, 0.0059), (0.77, 0.008), (0.85, 0.003), (0.88, 0.004)]
HOT_POS = [(3.3, 4e-4), (3.5, 3e-4), (2.17, 4.4e-4), (1.18, 0.0146), (2.55, 4e-4), (3.2, 6.6e-4), (2.5, 4.2e-4), (3.5, 4.6e-4), (2.42, 4.6e-5), (2.25, 4.3e-4)]
NAMES = ["IC 4296", "NGC 507", "NGC 741", "NGC 1132", "NGC 1399", "NGC 1600", "NGC 4472", "NGC 5846", "NGC 7619", "NGC 7626"]
Y_DOMAINS = [[1.1e-4, 0.6], [1.15e-4, 2.0], [1.1e-4, 0.58], [4.4e-4, 1.05], [1.07e-4, 4.4], [1.02e-4, 0.6], [1.6e-4, 6.6], [1.5e-4, 3.7], [2.2e-5, 0.96], [1.1e-4, 0.58]]
PANEL_LINES = [
    ["O VIII", "Mg XI", "Si XIII"],
    ["O VIII", "Ne X", "Mg XI", "Si XIII", "S XV"],
    ["O VIII", "Mg XI", "Si XIII"],
    ["O VIII", "Mg XI", "Si XIII"],
    ["O VIII", "Ne X", "Mg XI", "Si XIII", "S XV"],
    ["O VIII", "Mg XI", "Si XIII"],
    ["O VIII", "Ne X", "Mg XI", "Si XIII", "S XV"],
    ["O VIII", "Ne X", "Mg XI", "Si XIII", "S XV"],
    ["O VIII", "Ne X", "Mg XI", "Si XIII"],
    ["Mg XI", "Si XIII"],
]
LINE_LABEL_Y = [32, 34, 30, 47, 26, 27, 29, 34, 28, 37]

RED, BLUE, GREEN, MAGENTA = "#ff1a1a", "#1a1aff", "#22dd22", "#ff22ff"
DASHES = {"dash": [6, 3], "dashdot": [6, 2, 1.5, 2], "dashdotdot": [5, 2, 1.5, 2, 1.5, 2]}
TICK_COLOR = "#7a7a7a"


def label_expr(values, labels):
    s = ""
    for v, lab in zip(values, labels):
        s += f"(datum.value > {v * 0.8} && datum.value < {v * 1.25}) ? '{lab}' : "
    return s + "''"


def build_panel(k, E, comps, dx, dw, dy, df):
    ydom = Y_DOMAINS[k]
    xs = alt.Scale(type="log", domain=X_DOMAIN, nice=False)
    ys = alt.Scale(type="log", domain=ydom, nice=False)
    yv = [v for v in Y_TICK_VALUES if ydom[0] <= v <= ydom[1]]
    yl = [l for v, l in zip(Y_TICK_VALUES, Y_TICK_LABELS) if ydom[0] <= v <= ydom[1]]
    xa = alt.Axis(values=X_TICK_VALUES, labelExpr=label_expr(X_TICK_VALUES, X_TICK_LABELS),
                  ticks=False, domain=False, grid=False, title="Energy (keV)",
                  labelFlush=False, labelOverlap=False, labelPadding=3, titlePadding=2,
                  labelFontSize=9, titleFontSize=9, labelFont=FONT, titleFont=FONT,
                  labelColor="black", titleColor="black", titleFontWeight="normal")
    ya = alt.Axis(values=yv, labelExpr=label_expr(yv, yl), ticks=False, domain=False, grid=False,
                  title="count s⁻¹ keV⁻¹", labelAngle=270, labelPadding=2, titlePadding=2,
                  labelFontSize=9, titleFontSize=9, labelFont=FONT, titleFont=FONT,
                  labelColor="black", titleColor="black", titleFontWeight="normal",
                  minExtent=0, labelOverlap=False, labelFlush=False)
    X = lambda f: alt.X(f, type="quantitative", scale=xs, axis=xa)
    Y = lambda f: alt.Y(f, type="quantitative", scale=ys, axis=ya)

    layers = []
    # inward ticks on all four sides
    ymaj, ymin = [], []
    for n in range(-6, 2):
        for m in range(1, 10):
            v = m * 10.0 ** n
            if ydom[0] < v < ydom[1]:
                (ymaj if m == 1 else ymin).append(v)
    for vals, ln in ((X_MAJOR_TICKS, 7), (X_MINOR_TICKS, 4)):
        d = pd.DataFrame({"E": vals})
        layers.append(alt.Chart(d).mark_rule(color=TICK_COLOR, strokeWidth=1).encode(
            x=X("E"), y=alt.value(H), y2=alt.value(H - ln)))
        layers.append(alt.Chart(d).mark_rule(color=TICK_COLOR, strokeWidth=1).encode(
            x=X("E"), y=alt.value(0), y2=alt.value(ln)))
    for vals, ln in ((ymaj, 7), (ymin, 4)):
        if not vals:
            continue
        d = pd.DataFrame({"v": vals})
        layers.append(alt.Chart(d).mark_rule(color=TICK_COLOR, strokeWidth=1).encode(
            y=Y("v"), x=alt.value(0), x2=alt.value(ln)))
        layers.append(alt.Chart(d).mark_rule(color=TICK_COLOR, strokeWidth=1).encode(
            y=Y("v"), x=alt.value(W), x2=alt.value(W - ln)))

    # model components
    for vals, color, dash, width in comps:
        d = pd.DataFrame({"E": E, "v": vals, "i": list(range(len(E)))})
        kw = dict(color=color, strokeWidth=width, clip=True)
        if dash in DASHES:
            kw["strokeDash"] = DASHES[dash]
        layers.append(alt.Chart(d).mark_line(**kw).encode(x=X("E"), y=Y("v"), order="i:Q"))

    # data crosses
    n = min(len(dx), len(dw), len(dy), len(df))
    d = pd.DataFrame({
        "E": dx[:n], "v": dy[:n],
        "xlo": [dx[i] - dw[i] for i in range(n)], "xhi": [dx[i] + dw[i] for i in range(n)],
        "ylo": [dy[i] / df[i] for i in range(n)], "yhi": [dy[i] * df[i] for i in range(n)],
    })
    layers.append(alt.Chart(d).mark_rule(color="black", strokeWidth=1, clip=True).encode(
        x=X("xlo"), x2="xhi", y=Y("v")))
    layers.append(alt.Chart(d).mark_rule(color="black", strokeWidth=1, clip=True).encode(
        x=X("E"), y=Y("ylo"), y2="yhi"))

    # line identifications
    names = PANEL_LINES[k]
    d = pd.DataFrame({"E": [LINE_ENERGIES[LINE_NAMES.index(s)] for s in names],
                      "t": ["—" + s for s in names]})
    layers.append(alt.Chart(d).mark_text(angle=270, align="left", baseline="bottom",
                                         fontSize=7.5, font=FONT, color="black").encode(
        x=X("E"), y=alt.value(LINE_LABEL_Y[k]), text="t:N"))

    # annotations
    ann = [(FE_POS[k], "<-Fe L->"), (PT_POS[k], "pt. sources"), (HOT_POS[k], "Hot gas")]
    ann = [(p, t) for p, t in ann if p is not None]
    d = pd.DataFrame({"E": [p[0] for p, t in ann], "v": [p[1] for p, t in ann], "t": [t for p, t in ann]})
    layers.append(alt.Chart(d).mark_text(fontSize=9, font=FONT, color="black").encode(
        x=X("E"), y=Y("v"), text="t:N"))

    d = pd.DataFrame({"t": [NAMES[k]]})
    layers.append(alt.Chart(d).mark_text(align="left", baseline="middle", fontSize=13,
                                         font=FONT, color="black").encode(
        x=alt.value(9), y=alt.value(H - 16), text="t:N"))

    return alt.layer(*layers).properties(width=W, height=H)


panels = [
    build_panel(0, IC4296_E, [(IC4296_PT, GREEN, "dashdotdot", 1.3), (IC4296_GAS, BLUE, "dash", 1.5),
                              (IC4296_TOT, RED, "solid", 1.6)],
                IC4296_DX, IC4296_DW, IC4296_DY, IC4296_DF),
    build_panel(1, N507_E, [(N507_PT, GREEN, "dash", 1.3), (N507_GAS, BLUE, "dash", 1.5),
                            (N507_TOT, RED, "solid", 1.6)],
                N507_DX, N507_DW, N507_DY, N507_DF),
    build_panel(2, N741_E, [(N741_PT, GREEN, "solid", 1.3), (N741_MAG, MAGENTA, "dashdotdot", 1.3),
                            (N741_GAS, BLUE, "dash", 1.5), (N741_TOT, RED, "solid", 1.6)],
                N741_DX, N741_DW, N741_DY, N741_DF),
    build_panel(3, N1132_E, [(N1132_PT, GREEN, "dashdot", 1.3), (N1132_MAG, MAGENTA, "dash", 1.3),
                             (N1132_GAS, BLUE, "dashdot", 1.5), (N1132_TOT, RED, "solid", 1.6)],
                N1132_DX, N1132_DW, N1132_DY, N1132_DF),
    build_panel(4, N1399_E, [(N1399_MAG, MAGENTA, "dash", 1.3), (N1399_GAS, BLUE, "dash", 1.5),
                             (N1399_TOT, RED, "solid", 1.6)],
                N1399_DX, N1399_DW, N1399_DY, N1399_DF),
    build_panel(5, N1600_E, [(N1600_PT, GREEN, "dashdot", 1.3), (N1600_MAG, MAGENTA, "dash", 1.3),
                             (N1600_GAS, BLUE, "dash", 1.5), (N1600_TOT, RED, "solid", 1.6)],
                N1600_DX, N1600_DW, N1600_DY, N1600_DF),
    build_panel(6, N4472_E, [(N4472_PT, GREEN, "dashdot", 1.3), (N4472_GAS, BLUE, "dash", 1.5),
                             (N4472_TOT, RED, "solid", 1.6)],
                N4472_DX, N4472_DW, N4472_DY, N4472_DF),
    build_panel(7, N5846_E, [(N5846_PT, GREEN, "dashdot", 1.3), (N5846_MAG, MAGENTA, "dash", 1.3),
                             (N5846_GAS, BLUE, "dash", 1.5), (N5846_TOT, RED, "solid", 1.6)],
                N5846_DX, N5846_DW, N5846_DY, N5846_DF),
    build_panel(8, N7619_E, [(N7619_PT, GREEN, "dashdot", 1.3), (N7619_GAS, BLUE, "dash", 1.5),
                             (N7619_TOT, RED, "solid", 1.6)],
                N7619_DX, N7619_DW, N7619_DY, N7619_DF),
    build_panel(9, N7626_E, [(N7626_PT, GREEN, "dash", 1.3), (N7626_GAS, BLUE, "solid", 1.5),
                             (N7626_TOT, RED, "solid", 1.6)],
                N7626_DX, N7626_DW, N7626_DY, N7626_DF),
]

blank = alt.Chart(pd.DataFrame({"E": [1.0]})).mark_point(opacity=0).encode(
    x=alt.X("E:Q", axis=None), y=alt.Y("E:Q", axis=None)
).properties(width=W, height=H, view=alt.ViewBackground(stroke="transparent"))

chart = alt.concat(*panels[:9], blank, panels[9], columns=3,
                   spacing=alt.RowColnumber(row=6, column=14)).properties(
    padding={"left": 2, "right": 2, "top": 0, "bottom": 0}
).configure_view(stroke="#8c8c8c", strokeWidth=2).configure_text(font=FONT)

chart.save("out.html", embed_options={"renderer": "svg", "actions": False})
